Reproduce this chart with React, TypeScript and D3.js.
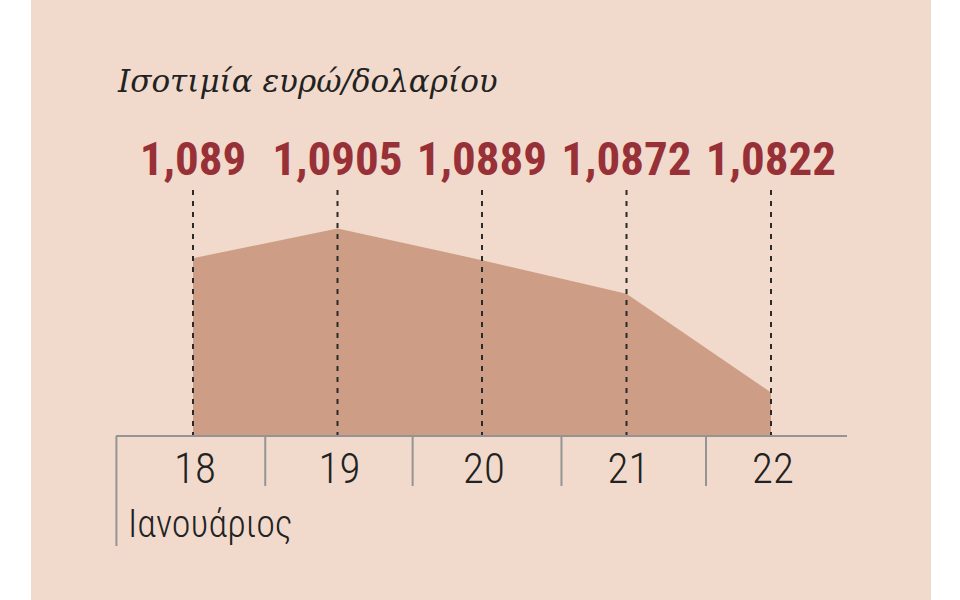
import React from 'react';
import * as d3 from 'd3';

const days = [18, 19, 20, 21, 22];
const rates = [1.089, 1.0905, 1.0889, 1.0872, 1.0822];
const rateLabels = ['1,089', '1,0905', '1,0889', '1,0872', '1,0822'];
const dividers = [17.47, 18.5, 19.52, 20.55, 21.55];
const title = 'Ισοτιμία ευρώ/δολαρίου';
const monthLabel = 'Ιανουάριος';

const W = 960;
const H = 600;
const baseY = 436;
const sans = "'Roboto Condensed', Roboto, sans-serif";

export default function App() {
  const x = d3.scaleLinear().domain([18, 22]).range([193, 771]);
  const y = d3.scaleLinear().domain([1.08, 1.09]).range([baseY, 238.4]);

  const area = d3
    .area<number>()
    .x((_, i) => x(days[i]))
    .y0(baseY)
    .y1((d) => y(d));

  return (
    <svg width={W} height={H} style={{ position: 'fixed', left: 0, top: 0 }}>
      <rect x={0} y={0} width={W} height={H} fill="#ffffff" />
      <rect x={31} y={0} width={900} height={H} fill="#f1dacb" />

      <text
        x={118}
        y={92}
        fontFamily="'DejaVu Serif', 'Liberation Serif', serif"
        fontStyle="italic"
        fontSize={31}
        fill="#222"
      >
        {title}
      </text>

      <path d={area(rates) ?? ''} fill="#cd9e85" />

      {days.map((d, i) => (
        <g key={d}>
          <line
            x1={x(d)}
            x2={x(d)}
            y1={190}
            y2={baseY}
            stroke="#2a2a2a"
            strokeWidth={2}
            strokeDasharray="5,6"
          />
          <text
            x={x(d)}
            y={175}
            textAnchor="middle"
            fontFamily={sans}
            fontWeight="bold"
            fontSize={47}
            fill="#983038"
          >
            {rateLabels[i]}
          </text>
          <text
            x={x(d) + 2}
            y={483}
            textAnchor="middle"
            fontFamily={sans}
            fontWeight={300}
            fontSize={43}
            fill="#222"
          >
            {d}
          </text>
        </g>
      ))}

      <line x1={116} x2={847} y1={baseY} y2={baseY} stroke="#949494" strokeWidth={2} />
      {dividers.map((d, i) => (
        <line
          key={d}
          x1={x(d)}
          x2={x(d)}
          y1={baseY}
          y2={i === 0 ? 546 : 486}
          stroke="#949494"
          strokeWidth={2}
        />
      ))}

      <text x={128} y={537} fontFamily={sans} fontWeight={300} fontSize={38} fill="#222">
        {monthLabel}
      </text>
    </svg>
  );
}
